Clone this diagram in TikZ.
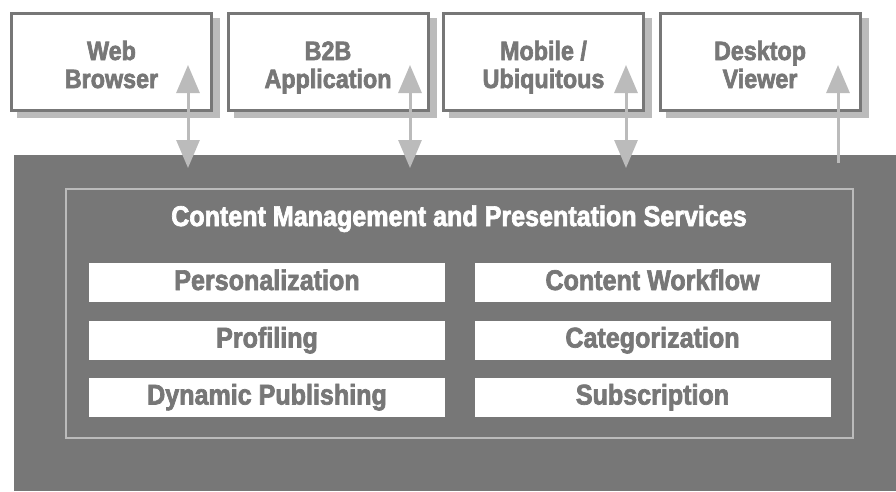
\documentclass[tikz,border=0pt]{standalone}
\usepackage{fontspec}
\newfontfamily\labelfont{Liberation Sans}[FakeStretch=0.88,FakeBold=2.4]
\usetikzlibrary{arrows.meta}
\definecolor{darkg}{HTML}{777777}
\definecolor{lightg}{HTML}{BBBBBB}
\tikzset{
  clientbox/.style={draw=darkg, line width=3pt, fill=white, minimum width=200pt, minimum height=97pt, inner sep=0pt, align=center, text=darkg, text height=52pt, text depth=0pt, font=\labelfont\bfseries\fontsize{26.5}{28}\selectfont},
  shadowbox/.style={fill=lightg, draw=none, minimum width=203pt, minimum height=100pt, inner sep=0pt},
  servbox/.style={fill=white, draw=none, minimum width=356pt, minimum height=39pt, inner sep=0pt, text=darkg, text height=20pt, text depth=5pt, font=\labelfont\bfseries\fontsize{28.5}{30}\selectfont},
  biarrow/.style={draw=lightg, line width=3pt, {Triangle[width=23pt,length=28pt]}-{Triangle[width=23pt,length=28pt]}},
  uparrow/.style={draw=lightg, line width=3pt, -{Triangle[width=23pt,length=28pt]}}
}
\begin{document}
\begin{tikzpicture}[x=1pt,y=-1pt]
\useasboundingbox (0,0) rectangle (896,491);
% platform
\node[fill=darkg, draw=none, minimum width=882pt, minimum height=336pt, inner sep=0pt, anchor=north west] (platform) at (14,155) {};
\node[draw=lightg, line width=2pt, minimum width=787pt, minimum height=249pt, inner sep=0pt, anchor=north west] (frame) at (65,188) {};
\node[text=white, anchor=base, inner sep=0pt, font=\labelfont\bfseries\fontsize{28.5}{30}\selectfont] (title) at (459,226) {Content Management and Presentation Services};
% services
\node[servbox] (pers) at (267,282.5) {Personalization};
\node[servbox] (flow) at (652.5,282.5) {Content Workflow};
\node[servbox] (prof) at (267,340) {Profiling};
\node[servbox] (cat) at (652.5,340) {Categorization};
\node[servbox] (dyn) at (267,397) {Dynamic Publishing};
\node[servbox] (sub) at (652.5,397) {Subscription};
% client shadows
\node[shadowbox] (webs) at (118.5,68) {};
\node[shadowbox] (b2bs) at (335,68) {};
\node[shadowbox] (mobs) at (550.5,68) {};
\node[shadowbox] (desks) at (767,68) {};
% clients
\node[clientbox] (web) at (111.5,62) {Web\\Browser};
\node[clientbox] (b2b) at (328,62) {B2B\\Application};
\node[clientbox] (mob) at (543.5,62) {Mobile /\\Ubiquitous};
\node[clientbox] (desk) at (760,62) {Desktop\\Viewer};
% arrow ends
\coordinate (webT) at (188,65);   \coordinate (webB) at (188,168);
\coordinate (b2bT) at (410,65);   \coordinate (b2bB) at (410,168);
\coordinate (mobT) at (626,65);   \coordinate (mobB) at (626,168);
\coordinate (deskT) at (838,65);  \coordinate (deskB) at (838,163);
\draw[biarrow] (webB) -- (webT);
\draw[biarrow] (b2bB) -- (b2bT);
\draw[biarrow] (mobB) -- (mobT);
\draw[uparrow] (deskB) -- (deskT);
\end{tikzpicture}
\end{document}
